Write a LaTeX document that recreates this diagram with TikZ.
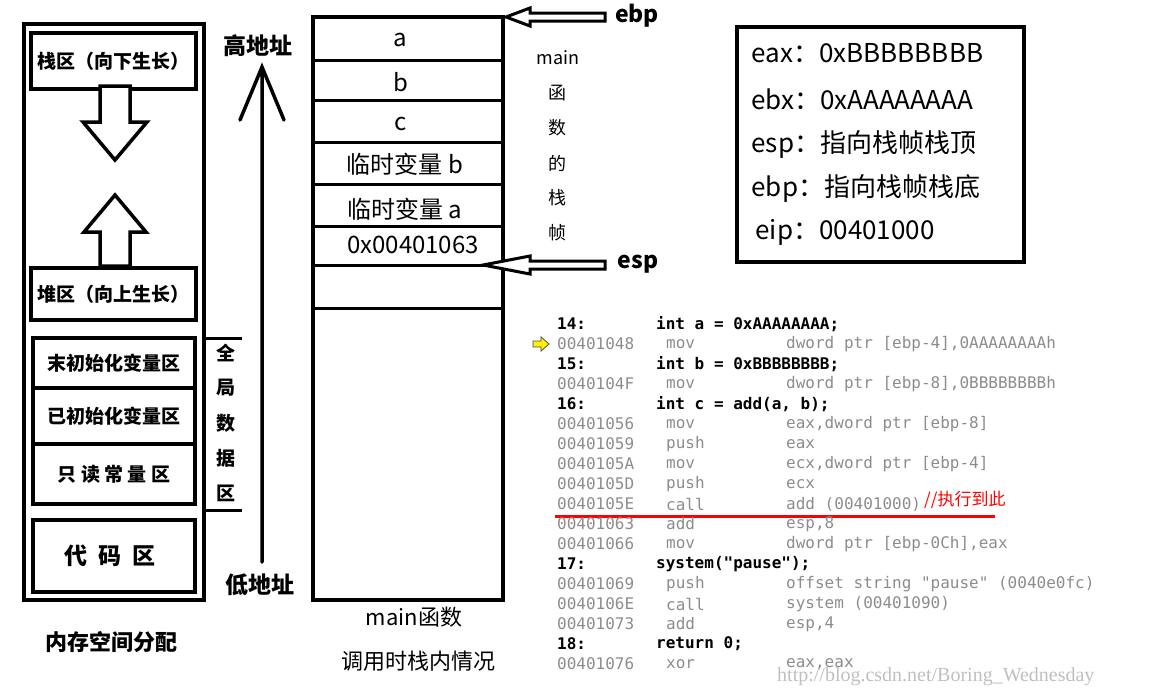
\documentclass[tikz,border=0pt]{standalone}
\usepackage{fontspec}
\setmainfont{Noto Sans CJK SC}
\newfontfamily\cjk{Noto Sans CJK SC}
\newfontfamily\code{DejaVu Sans Mono}
\newfontfamily\wm{Liberation Serif}
\begin{document}
\begin{tikzpicture}[x=1pt,y=-1pt,
  thick box/.style={draw,line width=3.5pt},
  lbl/.style={font=\cjk\bfseries\fontsize{19}{19}\selectfont},
  big/.style={font=\cjk\fontsize{24}{24}\selectfont},
  reg/.style={font=\cjk\fontsize{26}{26}\selectfont,anchor=west},
  codeb/.style={font=\code\bfseries\fontsize{16}{16}\selectfont,anchor=west,inner sep=0},
  codeg/.style={font=\code\fontsize{16}{16}\selectfont,text=black!45,anchor=west,inner sep=0},
  blockarrow/.style={draw,line width=3.5pt,line join=miter,fill=white}]
\useasboundingbox (0,0) rectangle (1161,696);
% left memory layout
\draw[thick box] (24,24) rectangle (204,600);
\node[thick box,minimum width=165,minimum height=56,lbl] (stack) at (113.5,61) {栈区（向下生长）};
\node[thick box,minimum width=165,minimum height=52,lbl] (heap) at (113.5,294) {堆区（向上生长）};
\draw[blockarrow] (100,86) -- (130,86) -- (130,122) -- (147,122) -- (115,160) -- (83,122) -- (100,122) -- cycle;
\draw[blockarrow] (115,195) -- (146,232) -- (130,232) -- (130,266) -- (100,266) -- (100,232) -- (84,232) -- cycle;
\draw[line width=3.5pt] (33,338) rectangle (195,504);
\draw[line width=3.5pt] (33,520) rectangle (195,592);
\node[lbl] (n1) at (114,363) {末初始化变量区};
\node[lbl] (n2) at (114,416) {已初始化变量区};
\node[lbl] (n3) at (114,474) {只\ 读\ 常\ 量\ 区};
\node[lbl,font=\cjk\bfseries\fontsize{23}{23}\selectfont] (n4) at (110,556) {代\ \ 码\ \ 区};
\draw[line width=3.5pt] (33,388) -- (195,388) (33,444) -- (195,444);
\draw[line width=3pt] (204,338) -- (242,338) (204,510) -- (242,510);
\foreach \c [count=\i] in {全,局,数,据,区}
  \node[lbl] at (226,318+35*\i) {\c};
\node[lbl,font=\cjk\bfseries\fontsize{22}{22}\selectfont] (mem) at (111,642) {内存空间分配};
% address arrow
\coordinate (lo) at (262,562);
\coordinate (hi) at (262,67);
\draw[line width=3.5pt,line cap=round] (lo) -- (hi) (240,120) -- (hi) -- (284,120);
\node[lbl,font=\cjk\bfseries\fontsize{23}{23}\selectfont] (high) at (258,46) {高地址};
\node[lbl,font=\cjk\bfseries\fontsize{23}{23}\selectfont] (low) at (260,585) {低地址};
% stack frame
\draw[line width=3.5pt] (313,17) rectangle (503,600);
\foreach \y in {60,100,142,184,226,265,308} \draw[line width=3pt] (313,\y) -- (503,\y);
\node[big] at (400,40) {a};
\node[big] at (401,82) {b};
\node[big] at (401,124) {c};
\node[big] at (405,164) {临时变量 b};
\node[big] at (405,209) {临时变量 a};
\node[big] at (413,245) {0x00401063};
\node[big,font=\cjk\fontsize{22}{22}\selectfont] at (414,617) {main函数};
\node[big,font=\cjk\fontsize{22}{22}\selectfont] at (418,661) {调用时栈内情况};
% hollow arrows
\draw[blockarrow,line width=3pt] (506,17) -- (530,8) -- (530,13) -- (605,13) -- (605,21) -- (530,21) -- (530,26) -- cycle;
\node[lbl,font=\cjk\bfseries\fontsize{23}{23}\selectfont] at (637,16) {ebp};
\draw[blockarrow,line width=3pt] (483,265) -- (530,256) -- (530,261) -- (605,261) -- (605,269) -- (530,269) -- (530,274) -- cycle;
\node[lbl,font=\cjk\bfseries\fontsize{23}{23}\selectfont] at (638,264) {esp};
% vertical label
\node[font=\cjk\fontsize{18}{18}\selectfont] at (558,58) {main};
\foreach \c [count=\i] in {函,数,的,栈,帧}
  \node[font=\cjk\fontsize{18}{18}\selectfont] at (557,58+35*\i) {\c};
% registers
\draw[line width=3.5pt] (737,27) rectangle (1024,262);
\node[reg] at (748,53) {eax：0xBBBBBBBB};
\node[reg] at (748,99) {ebx：0xAAAAAAAA};
\node[reg] at (748,145) {esp：指向栈帧栈顶};
\node[reg] at (748,189) {ebp：指向栈帧栈底};
\node[reg] at (752,232) {eip：00401000};
% code
\node[codeb] at (557,324) {14:};   \node[codeb] at (656,324) {int a = 0xAAAAAAAA;};
\node[codeg] at (557,344) {00401048}; \node[codeg] at (666,344) {mov}; \node[codeg] at (786,344) {dword ptr [ebp-4],0AAAAAAAAh};
\node[codeb] at (557,364) {15:};   \node[codeb] at (656,364) {int b = 0xBBBBBBBB;};
\node[codeg] at (557,384) {0040104F}; \node[codeg] at (666,384) {mov}; \node[codeg] at (786,384) {dword ptr [ebp-8],0BBBBBBBBh};
\node[codeb] at (557,404) {16:};   \node[codeb] at (656,404) {int c = add(a, b);};
\node[codeg] at (557,424) {00401056}; \node[codeg] at (666,424) {mov}; \node[codeg] at (786,424) {eax,dword ptr [ebp-8]};
\node[codeg] at (557,444) {00401059}; \node[codeg] at (666,444) {push}; \node[codeg] at (786,444) {eax};
\node[codeg] at (557,464) {0040105A}; \node[codeg] at (666,464) {mov}; \node[codeg] at (786,464) {ecx,dword ptr [ebp-4]};
\node[codeg] at (557,484) {0040105D}; \node[codeg] at (666,484) {push}; \node[codeg] at (786,484) {ecx};
\node[codeg] at (557,504) {0040105E}; \node[codeg] at (666,504) {call}; \node[codeg] (callop) at (786,504) {add (00401000)};
\node[anchor=west,text=red,font=\cjk\fontsize{17}{17}\selectfont,inner sep=0] at (924,500) {//执行到此};
\draw[red,line width=3pt] (555,516) -- (995,516);
\node[codeg] at (557,524) {00401063}; \node[codeg] at (666,524) {add}; \node[codeg] at (786,524) {esp,8};
\node[codeg] at (557,544) {00401066}; \node[codeg] at (666,544) {mov}; \node[codeg] at (786,544) {dword ptr [ebp-0Ch],eax};
\node[codeb] at (557,564) {17:};   \node[codeb] at (656,564) {system("pause");};
\node[codeg] at (557,584) {00401069}; \node[codeg] at (666,584) {push}; \node[codeg] at (786,584) {offset string "pause" (0040e0fc)};
\node[codeg] at (557,604) {0040106E}; \node[codeg] at (666,604) {call}; \node[codeg] at (786,604) {system (00401090)};
\node[codeg] at (557,624) {00401073}; \node[codeg] at (666,624) {add}; \node[codeg] at (786,624) {esp,4};
\node[codeb] at (557,644) {18:};   \node[codeb] at (656,644) {return 0;};
\node[codeg] at (557,664) {00401076}; \node[codeg] at (666,664) {xor}; \node[codeg] at (786,664) {eax,eax};
\draw[fill=yellow,draw=black!70,line width=0.8pt] (533,341) -- (541,341) -- (541,337) -- (549,344) -- (541,351) -- (541,347) -- (533,347) -- cycle;
\node[anchor=west,text=black!25,font=\wm\fontsize{20}{20}\selectfont,inner sep=0] at (777,677) {http://blog.csdn.net/Boring\_Wednesday};
\end{tikzpicture}
\end{document}
